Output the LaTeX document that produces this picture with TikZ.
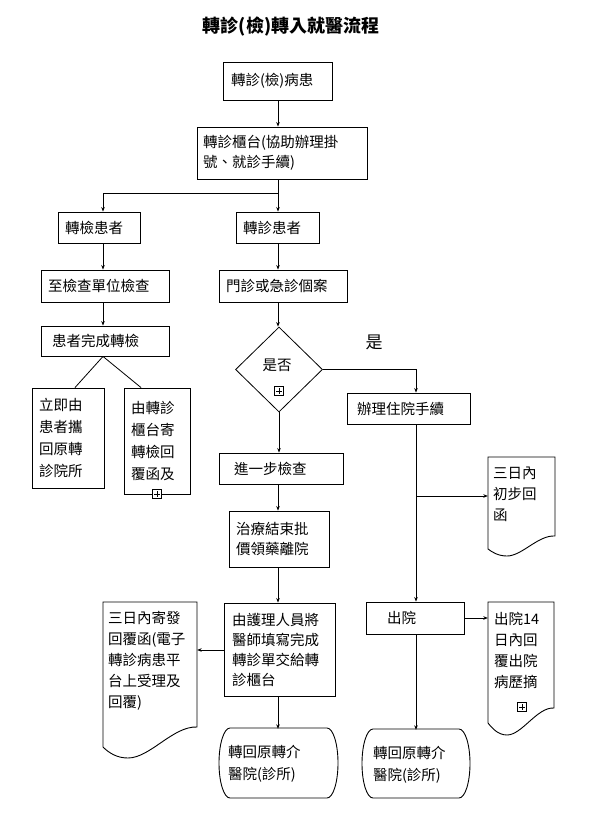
\documentclass[tikz,border=0pt]{standalone}
\usepackage{fontspec}
\setmainfont{Noto Sans CJK TC}
\usetikzlibrary{arrows.meta,shapes.geometric,calc}
\begin{document}
\begin{tikzpicture}[x=1pt,y=-1pt,
  font=\fontsize{14.5}{21}\selectfont,
  box/.style={draw, line width=0.9pt, align=left, inner ysep=0pt, anchor=center},
  txt/.style={align=left, inner ysep=0pt, anchor=center},
  arr/.style={-{Stealth[length=4.5pt,width=3.6pt]}, line width=0.8pt},
  ln/.style={line width=0.8pt},
  outl/.style={line width=0.9pt},
  plusbox/.style={draw, fill=white, line width=0.7pt, minimum size=8.5pt, inner sep=0pt,
    path picture={
      \draw[line width=0.7pt] ([yshift=-1.6pt]path picture bounding box.north) -- ([yshift=1.6pt]path picture bounding box.south);
      \draw[line width=0.7pt] ([xshift=1.6pt]path picture bounding box.west) -- ([xshift=-1.6pt]path picture bounding box.east);
    }},
]
\fill[white] (0,0) rectangle (589,838);
\useasboundingbox (0,0) rectangle (589,838);

% title
\node[font=\fontsize{18}{20}\selectfont\bfseries] (title) at (291,27) {轉診(檢)轉入就醫流程};

% column coordinates
\coordinate (cL) at (103,0);
\coordinate (cM) at (278,0);
\coordinate (cR) at (416,0);
\coordinate (k1) at (75,0);
\coordinate (k2) at (141,0);
\coordinate (j1) at (278,193);
\coordinate (j2) at (416,496);
\coordinate (j3) at (0,650);

% boxes
\node[box, minimum width=109, minimum height=38, inner xsep=8, text width=93] (b1) at (277.5,81) {轉診(檢)病患};
\node[box, minimum width=170, minimum height=52, inner xsep=6, text width=158, font=\fontsize{14.5}{20}\selectfont] (b2) at (282,153) {轉診櫃台(協助辦理掛\\號、就診手續)};
\node[box, minimum width=82, minimum height=31, inner xsep=7, text width=68] (b3) at (99,227.5) {轉檢患者};
\node[box, minimum width=83, minimum height=31, inner xsep=7, text width=69] (b4) at (277.5,227.5) {轉診患者};
\node[box, minimum width=128, minimum height=32, inner xsep=7, text width=114] (b5) at (105,286) {至檢查單位檢查};
\node[box, minimum width=128, minimum height=32, inner xsep=7, text width=114] (b6) at (283,286) {門診或急診個案};
\node[box, minimum width=128, minimum height=30, inner xsep=11, text width=106] (b7) at (105,341) {患者完成轉檢};
\node[draw, diamond, line width=0.8pt, minimum width=87, minimum height=85, inner sep=0pt] (dia) at (279,369.5) {};
\node (q) at (277,365) {是否};
\node[plusbox] (p1) at (279,391) {};
\node[font=\fontsize{17}{20}\selectfont] (yes) at (374,342) {是};
\node[box, minimum width=72, minimum height=100, inner xsep=7, text width=58, font=\fontsize{14.5}{22}\selectfont] (b8) at (68,438) {立即由\\患者攜\\回原轉\\診院所};
\node[box, minimum width=66, minimum height=106, inner xsep=7, text width=52, font=\fontsize{14.5}{22}\selectfont] (b9) at (157,441) {由轉診\\櫃台寄\\轉檢回\\覆函及};
\node[plusbox] (p2) at (157,494) {};
\node[box, minimum width=123, minimum height=31, inner xsep=10, text width=103] (b10) at (408.5,408.5) {辦理住院手續};
\node[box, minimum width=124, minimum height=31, inner xsep=15, text width=94] (b11) at (281,468.5) {進一步檢查};
\node[box, minimum width=100, minimum height=56, inner xsep=7, text width=86, font=\fontsize{14.5}{20}\selectfont] (b12) at (279,539) {治療結束批\\價領藥離院};
\node[box, minimum width=111, minimum height=93, inner xsep=8, text width=95, font=\fontsize{14.5}{20}\selectfont] (b13) at (279.5,649.5) {由護理人員將\\醫師填寫完成\\轉診單交給轉\\診櫃台};
\node[box, minimum width=98, minimum height=32, inner xsep=21, text width=56] (b14) at (415,618) {出院};

% terminals
\draw[outl] (230,728) -- (327,728) .. controls (333.07,728) and (338,743.7) .. (338,763) .. controls (338,782.3) and (333.07,798) .. (327,798) -- (230,798) .. controls (223.93,798) and (219,782.3) .. (219,763) .. controls (219,743.7) and (223.93,728) .. (230,728) -- cycle;
\node[txt, minimum width=119, minimum height=70, inner xsep=9, text width=101, font=\fontsize{14.5}{22}\selectfont] (t1) at (278.5,764) {轉回原轉介\\醫院(診所)};
\draw[outl] (373,729) -- (459,729) .. controls (465.07,729) and (470,744.46) .. (470,763.5) .. controls (470,782.54) and (465.07,798) .. (459,798) -- (373,798) .. controls (366.93,798) and (362,782.54) .. (362,763.5) .. controls (362,744.46) and (366.93,729) .. (373,729) -- cycle;
\node[txt, minimum width=108, minimum height=69, inner xsep=11, text width=86, font=\fontsize{14.5}{22}\selectfont] (t2) at (416,764.5) {轉回原轉介\\醫院(診所)};

% documents
\draw[outl] (488,457) -- (555,457) -- (555,536) .. controls (538,535) and (522,556) .. (507,556) .. controls (498,556) and (492,552) .. (488,549) -- cycle;
\node[txt, minimum width=67, inner xsep=5, text width=57] (d1) at (521.5,494) {三日內\\初步回\\函};
\draw[outl] (103,602) -- (197,602) -- (197,727) .. controls (173,726) and (150,758) .. (128,758) .. controls (117,758) and (109,753) .. (103,747) -- cycle;
\node[txt, minimum width=94, inner xsep=5, text width=84] (d2) at (150,661) {三日內寄發\\回覆函(電子\\轉診病患平\\台上受理及\\回覆)};
\draw[outl] (488,602) -- (554,602) -- (554,708) .. controls (537,707) and (522,735) .. (507,735) .. controls (498,735) and (492,728) .. (488,723) -- cycle;
\node[txt, minimum width=66, inner xsep=6, text width=54] (d3) at (521,650) {出院14\\日內回\\覆出院\\病歷摘};
\node[plusbox] (p3) at (522,707) {};

% connectors
\draw[arr] (b1.south -| cM) -- (b2.north -| cM);
\draw[ln] (b2.south -| cM) -- (j1);
\draw[arr] (j1) -- (j1 -| cL) -- (b3.north -| cL);
\draw[arr] (j1) -- (b4.north -| cM);
\draw[arr] (b3.south -| cL) -- (b5.north -| cL);
\draw[arr] (b5.south -| cL) -- (b7.north -| cL);
\draw[ln] (b7.south -| cL) -- (b8.north -| k1);
\draw[ln] (b7.south -| cL) -- (b9.north -| k2);
\draw[arr] (b4.south -| cM) -- (b6.north -| cM);
\draw[arr] (b6.south -| cM) -- (dia.north -| cM);
\draw[arr] (dia.south) -- (dia.south |- b11.north);
\draw[arr] (dia.east) -- (dia.east -| cR) -- (b10.north -| cR);
\draw[arr] (b10.south -| cR) -- (b14.north -| cR);
\draw[arr] (j2) -- (j2 -| d1.west);
\draw[arr] (b11.south -| cM) -- (b12.north -| cM);
\draw[arr] (b12.south -| cM) -- (b13.north -| cM);
\draw[arr] (b13.west |- j3) -- (d2.east |- j3);
\draw[arr] (b13.south -| cM) -- (t1.north -| cM);
\draw[arr] (b14.east) -- (b14.east -| d3.west);
\draw[arr] (b14.south -| cR) -- (t2.north -| cR);
\end{tikzpicture}
\end{document}
